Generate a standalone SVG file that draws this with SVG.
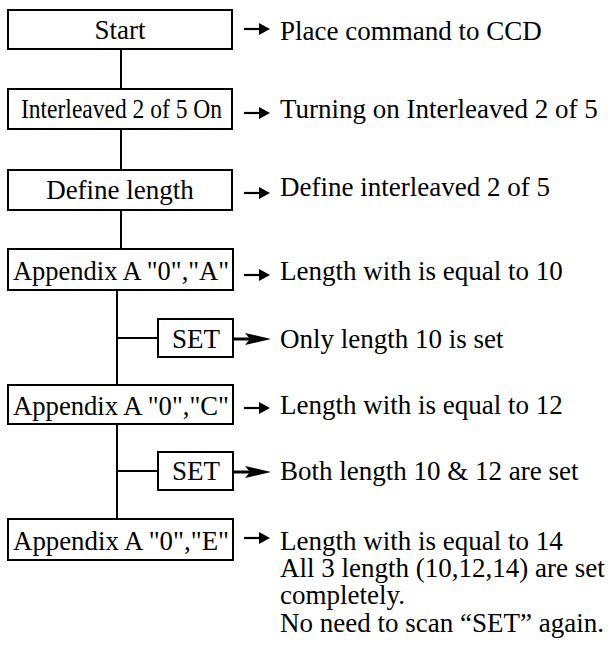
<svg xmlns="http://www.w3.org/2000/svg" width="608" height="654" viewBox="0 0 608 654">
<style>
.box{fill:#fff;stroke:#000;stroke-width:2}
.t{font-size:27px;fill:#000}
.c{text-anchor:middle}
.ln{stroke:#000;stroke-width:2;fill:none}
</style>
<defs>
<g id="sa"><line x1="244" y1="0" x2="262" y2="0" stroke="#000" stroke-width="2.2"/><polygon points="259,-6 270,0 259,6" fill="#000"/></g>
<g id="ba"><line x1="233" y1="0" x2="252" y2="0" stroke="#000" stroke-width="3"/><polygon points="245,-6 271,0 245,6 250,0" fill="#000"/></g>
</defs>
<g id="connectors">
<line class="ln" x1="121" y1="49" x2="121" y2="89"/>
<line class="ln" x1="121" y1="129" x2="121" y2="170"/>
<line class="ln" x1="121" y1="210" x2="121" y2="249"/>
<line class="ln" x1="117" y1="290" x2="117" y2="385"/>
<line class="ln" x1="117" y1="338" x2="158" y2="338"/>
<line class="ln" x1="117" y1="424" x2="117" y2="519"/>
<line class="ln" x1="117" y1="471" x2="158" y2="471"/>
<use href="#sa" y="29"/>
<use href="#sa" y="113"/>
<use href="#sa" y="193"/>
<use href="#sa" y="275"/>
<use href="#ba" y="339"/>
<use href="#sa" y="408"/>
<use href="#ba" y="472"/>
<use href="#sa" y="538"/>
</g>
<g font-family="'Liberation Serif', 'Times New Roman', serif">
<g id="n-start"><rect class="box" x="8" y="10" width="224" height="39"/><text class="t c" x="120" y="39">Start</text></g>
<g id="n-i25"><rect class="box" x="8" y="89" width="224" height="40"/><text class="t" x="21" y="118" textLength="201" lengthAdjust="spacingAndGlyphs">Interleaved 2 of 5 On</text></g>
<g id="n-define"><rect class="box" x="8" y="170" width="224" height="40"/><text class="t c" x="120" y="199">Define length</text></g>
<g id="n-appA"><rect class="box" x="8" y="249" width="225" height="41"/><text class="t c" x="121" y="280" textLength="216" lengthAdjust="spacingAndGlyphs">Appendix A "0","A"</text></g>
<g id="n-set1"><rect class="box" x="158" y="319" width="75" height="38"/><text class="t c" x="196" y="348">SET</text></g>
<g id="n-appC"><rect class="box" x="8" y="385" width="225" height="39"/><text class="t c" x="121" y="415" textLength="216" lengthAdjust="spacingAndGlyphs">Appendix A "0","C"</text></g>
<g id="n-set2"><rect class="box" x="158" y="452" width="75" height="38"/><text class="t c" x="196" y="480">SET</text></g>
<g id="n-appE"><rect class="box" x="8" y="519" width="225" height="41"/><text class="t c" x="121" y="550" textLength="216" lengthAdjust="spacingAndGlyphs">Appendix A "0","E"</text></g>
<g id="labels">
<text class="t" x="280" y="40">Place command to CCD</text>
<text class="t" x="280" y="118">Turning on Interleaved 2 of 5</text>
<text class="t" x="280" y="196">Define interleaved 2 of 5</text>
<text class="t" x="280" y="280">Length with is equal to 10</text>
<text class="t" x="280" y="348">Only length 10 is set</text>
<text class="t" x="280" y="414">Length with is equal to 12</text>
<text class="t" x="280" y="480">Both length 10 &amp; 12 are set</text>
<text class="t" x="280" y="550">Length with is equal to 14</text>
<text class="t" x="280" y="577">All 3 length (10,12,14) are set</text>
<text class="t" x="280" y="604">completely.</text>
<text class="t" x="280" y="632">No need to scan “SET” again.</text>
</g>
</g>
</svg>
